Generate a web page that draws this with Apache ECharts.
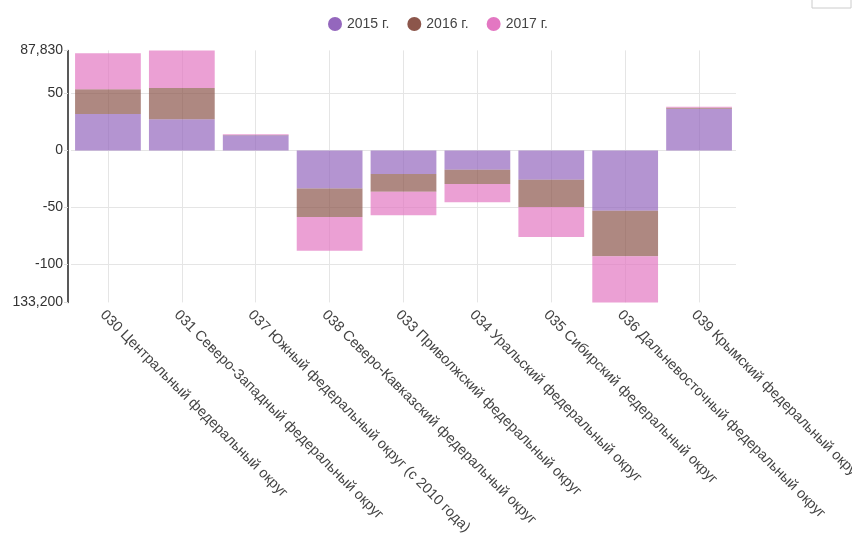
<!DOCTYPE html>
<html>
<head>
<meta charset="utf-8">
<script src="https://cdn.jsdelivr.net/npm/echarts@6/dist/echarts.min.js"></script>
<style>
  html, body {margin: 0; padding: 0; background: #fff;}
  #chart {width: 852px; height: 533px;}
</style>
</head>
<body>
<div id="chart"></div>
<script>
const categories = [
  '030 Центральный федеральный округ',
  '031 Северо-Западный федеральный округ',
  '037 Южный федеральный округ (с 2010 года)',
  '038 Северо-Кавказский федеральный округ',
  '033 Приволжский федеральный округ',
  '034 Уральский федеральный округ',
  '035 Сибирский федеральный округ',
  '036 Дальневосточный федеральный округ',
  '039 Крымский федеральный округ'
];
const seriesNames = ['2015 г.', '2016 г.', '2017 г.'];
const v2015 = [32.0, 27.4, 13.3, -33.2, -20.6, -16.8, -25.6, -52.8, 36.7];
const v2016 = [21.7, 27.5, 0.4, -25.2, -15.5, -12.5, -24.0, -40.0, 0.8];
const v2017 = [31.6, 32.9, 0.5, -29.5, -20.7, -16.1, -26.3, -40.4, 0.9];
const yMin = -133.2;
const yMax = 87.83;
const yMinLabel = '133,200';
const yMaxLabel = '87,830';

const colors = ['#9467bd', '#8c564b', '#e377c2'];
const font = 'Liberation Sans, Arial, sans-serif';

const chart = echarts.init(document.getElementById('chart'));
chart.setOption({
  animation: false,
  color: colors,
  textStyle: {fontFamily: font},
  grid: {
    left: 71, right: 116, top: 50.4, bottom: 230.6,
    containLabel: false,
    outerBoundsMode: 'none'
  },
  legend: {
    data: seriesNames,
    left: 323,
    top: 12,
    icon: 'circle',
    itemWidth: 14,
    itemHeight: 14,
    itemGap: 18,
    itemStyle: {opacity: 1},
    textStyle: {fontSize: 14, color: '#444', fontFamily: font}
  },
  xAxis: [
    {
      type: 'category',
      data: categories,
      axisLine: {show: false},
      axisTick: {show: false},
      splitLine: {show: false},
      axisLabel: {
        interval: 0,
        rotate: -45,
        fontSize: 14.5,
        color: '#444',
        margin: 5,
        verticalAlign: 'top'
      }
    },
    {
      // only draws the vertical lines at the category centres
      type: 'value',
      position: 'top',
      min: -0.5,
      max: 8.5,
      minInterval: 1,
      maxInterval: 1,
      splitNumber: 9,
      axisLine: {show: false},
      axisTick: {show: false},
      axisLabel: {show: false},
      splitLine: {
        show: true,
        showMinLine: false,
        showMaxLine: false,
        lineStyle: {color: '#e5e5e5', width: 1}
      }
    }
  ],
  yAxis: {
    type: 'value',
    min: yMin,
    max: yMax,
    splitNumber: 5,
    minInterval: 50,
    maxInterval: 50,
    offset: 3,
    axisLine: {show: true, onZero: false, lineStyle: {color: '#222', width: 1.5}},
    axisTick: {show: true, length: 4, lineStyle: {color: '#ddd'}},
    splitLine: {
      show: true,
      showMinLine: false,
      showMaxLine: false,
      lineStyle: {color: '#e5e5e5', width: 1}
    },
    axisLabel: {
      showMinLabel: true,
      showMaxLabel: true,
      fontSize: 14,
      color: '#333',
      margin: 5,
      formatter: function (v) {
        if (Math.abs(v - yMin) < 1e-6) return yMinLabel;
        if (Math.abs(v - yMax) < 1e-6) return yMaxLabel;
        return String(v);
      }
    }
  },
  graphic: [{
    type: 'rect',
    shape: {x: 812, y: -12, width: 39, height: 20},
    style: {fill: 'none', stroke: '#ccc', lineWidth: 1}
  }],
  series: [v2015, v2016, v2017].map((vals, i) => ({
    name: seriesNames[i],
    type: 'bar',
    stack: 'total',
    data: vals,
    barWidth: '89%',
    itemStyle: {color: colors[i], opacity: 0.7}
  }))
});
</script>
</body>
</html>
